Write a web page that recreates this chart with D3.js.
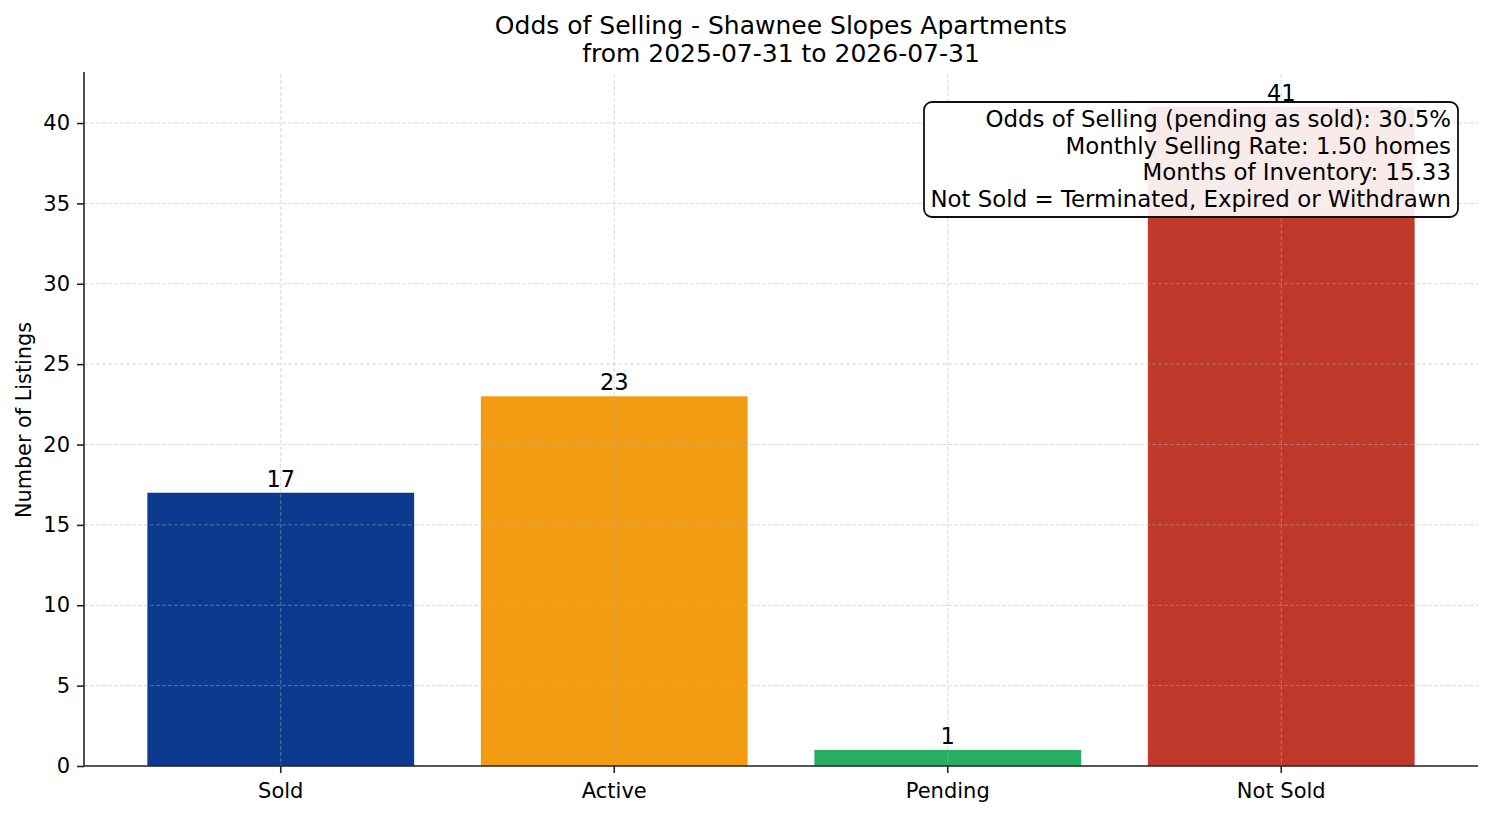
<!DOCTYPE html>
<html>
<head>
<meta charset="utf-8">
<script src="https://cdn.jsdelivr.net/npm/d3@7"></script>
<style>
    body { margin: 0; background: white; }
    text { font-family: "DejaVu Sans", sans-serif; fill: #000; }
</style>
</head>
<body>
<div id="chart"></div>
<script>
// data
const categories = ["Sold", "Active", "Pending", "Not Sold"]
const counts = [17, 23, 1, 41]
const yTicks = [0, 5, 10, 15, 20, 25, 30, 35, 40]
const titleLines = ["Odds of Selling - Shawnee Slopes Apartments", "from 2025-07-31 to 2026-07-31"]
const statLines = [
    "Odds of Selling (pending as sold): 30.5%",
    "Monthly Selling Rate: 1.50 homes",
    "Months of Inventory: 15.33",
    "Not Sold = Terminated, Expired or Withdrawn"
]
const barColors = ["#0b3a8e", "#f39c12", "#27ae60", "#c0392b"]

function main() {
    const W = 1494, H = 816
    const margin = {top: 74, right: 16, bottom: 50, left: 84},
        width = W - margin.left - margin.right,
        height = H - margin.top - margin.bottom

    const svg = d3.select("#chart")
        .append("svg")
        .attr("width", W)
        .attr("height", H)

    const g = svg.append("g")
        .attr("transform", `translate(${margin.left}, ${margin.top})`)

    // scales
    const x = d3.scaleBand()
        .domain(categories)
        .range([0, width])
        .paddingInner(0.2)
        .paddingOuter(0.19)

    const y = d3.scaleLinear()
        .domain([0, d3.max(counts) * 1.05])
        .range([height, 0])

    const color = d3.scaleOrdinal().domain(categories).range(barColors)

    const data = categories.map((c, i) => ({cat: c, n: counts[i]}))

    // bars
    g.selectAll(".bar")
        .data(data)
        .join("rect")
        .attr("class", "bar")
        .attr("x", d => x(d.cat))
        .attr("y", d => y(d.n))
        .attr("width", x.bandwidth())
        .attr("height", d => height - y(d.n))
        .attr("fill", d => color(d.cat))

    // grid on top of bars, dashed
    const grid = g.append("g")
        .attr("stroke", "#b0b0b0")
        .attr("stroke-opacity", 0.6)
        .attr("stroke-width", 0.8)
        .attr("stroke-dasharray", "4,2")
    grid.selectAll(".hg")
        .data(yTicks)
        .join("line")
        .attr("x1", 0).attr("x2", width)
        .attr("y1", d => y(d)).attr("y2", d => y(d))
    grid.selectAll(".vg")
        .data(categories)
        .join("line")
        .attr("x1", d => x(d) + x.bandwidth() / 2)
        .attr("x2", d => x(d) + x.bandwidth() / 2)
        .attr("y1", 0).attr("y2", height)

    // bar value labels
    g.selectAll(".lbl")
        .data(data)
        .join("text")
        .attr("class", "lbl")
        .attr("x", d => x(d.cat) + x.bandwidth() / 2)
        .attr("y", d => y(d.n) - 6)
        .attr("text-anchor", "middle")
        .style("font-size", "22.5px")
        .text(d => d.n)

    // y axis
    const yAxis = g.append("g")
        .call(d3.axisLeft(y).tickValues(yTicks).tickSize(7).tickPadding(7))
    yAxis.selectAll("text").style("font-size", "21px").attr("fill", "#000")
    yAxis.selectAll("line").attr("stroke", "#222").attr("stroke-width", 1.6)
    yAxis.select(".domain").remove()

    // x axis
    const xAxis = g.append("g")
        .attr("transform", `translate(0, ${height})`)
        .call(d3.axisBottom(x).tickSize(7).tickPadding(10))
    xAxis.selectAll("text").style("font-size", "21px").attr("fill", "#000")
    xAxis.selectAll("line").attr("stroke", "#222").attr("stroke-width", 1.6)
    xAxis.select(".domain").remove()

    // spines (left + bottom only)
    g.append("line")
        .attr("x1", 0).attr("x2", 0).attr("y1", -2).attr("y2", height)
        .attr("stroke", "#222").attr("stroke-width", 1.6)
    g.append("line")
        .attr("x1", 0).attr("x2", width).attr("y1", height).attr("y2", height)
        .attr("stroke", "#222").attr("stroke-width", 1.6)

    // y label
    svg.append("text")
        .attr("transform", `translate(31, ${margin.top + height / 2}) rotate(-90)`)
        .attr("text-anchor", "middle")
        .style("font-size", "20.8px")
        .text("Number of Listings")

    // title
    svg.append("g").selectAll("text")
        .data(titleLines)
        .join("text")
        .attr("x", margin.left + width / 2)
        .attr("y", (d, i) => 34 + i * 27.5)
        .attr("text-anchor", "middle")
        .style("font-size", "25px")
        .text(d => d)

    // stats box, upper right
    const box = svg.append("g")
    box.append("rect")
        .attr("x", 924).attr("y", 102)
        .attr("width", 534).attr("height", 115)
        .attr("rx", 8).attr("ry", 8)
        .attr("fill", "white").attr("fill-opacity", 0.9)
        .attr("stroke", "#111").attr("stroke-width", 1.8)
    box.selectAll("text")
        .data(statLines)
        .join("text")
        .attr("x", 1451)
        .attr("y", (d, i) => 127 + i * 26.6)
        .attr("text-anchor", "end")
        .style("font-size", "22.9px")
        .text(d => d)
}

main()
</script>
</body>
</html>
